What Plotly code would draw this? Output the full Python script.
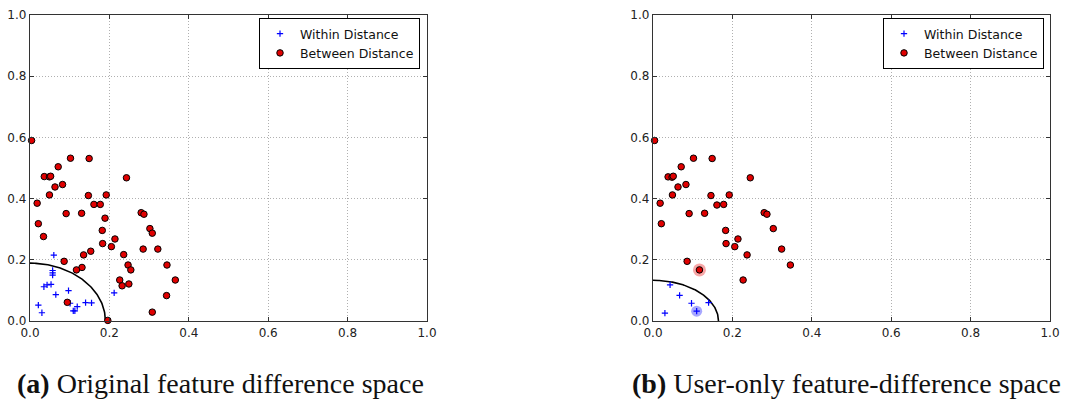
import numpy as np
import plotly.graph_objects as go

W, H = 1067, 401

# ---- data: panel (a) ----
a_within_x = [0.060, 0.057, 0.057, 0.057, 0.035, 0.043, 0.053, 0.065, 0.097, 0.021, 0.030,
              0.101, 0.109, 0.113, 0.119, 0.140, 0.155, 0.212]
a_within_y = [0.215, 0.165, 0.157, 0.150, 0.112, 0.118, 0.120, 0.086, 0.099, 0.052, 0.027,
              0.058, 0.033, 0.033, 0.047, 0.060, 0.059, 0.092]
a_between_x = [0.004, 0.102, 0.149, 0.071, 0.036, 0.049, 0.052, 0.243, 0.082, 0.063, 0.049, 0.147,
               0.192, 0.018, 0.161, 0.177, 0.091, 0.130, 0.021, 0.189, 0.280, 0.287, 0.034, 0.182,
               0.302, 0.308, 0.214, 0.183, 0.205, 0.153, 0.285, 0.322, 0.135, 0.236, 0.086, 0.345,
               0.247, 0.131, 0.117, 0.254, 0.226, 0.366, 0.232, 0.249, 0.344, 0.094, 0.308, 0.196]
a_between_y = [0.590, 0.532, 0.531, 0.504, 0.472, 0.471, 0.473, 0.468, 0.446, 0.438, 0.412, 0.410,
               0.412, 0.385, 0.381, 0.381, 0.351, 0.352, 0.318, 0.336, 0.354, 0.349, 0.276, 0.296,
               0.302, 0.287, 0.268, 0.253, 0.243, 0.228, 0.235, 0.235, 0.216, 0.217, 0.195, 0.183,
               0.183, 0.175, 0.167, 0.167, 0.134, 0.134, 0.115, 0.121, 0.083, 0.061, 0.029, 0.002]
a_radius_x, a_radius_y = 0.190, 0.189

# ---- data: panel (b) ----
b_within_x = [0.043, 0.067, 0.097, 0.140, 0.030, 0.110]
b_within_y = [0.118, 0.084, 0.058, 0.060, 0.026, 0.032]
b_between_x = [0.004, 0.102, 0.149, 0.071, 0.038, 0.048, 0.051, 0.245, 0.083, 0.063, 0.049, 0.146,
               0.192, 0.018, 0.161, 0.178, 0.091, 0.130, 0.021, 0.280, 0.287, 0.183, 0.303, 0.214,
               0.184, 0.206, 0.324, 0.237, 0.086, 0.346, 0.117, 0.227]
b_between_y = [0.590, 0.532, 0.531, 0.504, 0.471, 0.470, 0.473, 0.468, 0.446, 0.438, 0.412, 0.410,
               0.412, 0.385, 0.379, 0.381, 0.351, 0.352, 0.318, 0.354, 0.349, 0.296, 0.302, 0.268,
               0.253, 0.243, 0.235, 0.216, 0.195, 0.183, 0.167, 0.134]
b_hl_between = (0.117, 0.167)
b_hl_within = (0.110, 0.032)
b_radius_x, b_radius_y = 0.165, 0.133

ticks = [0.0, 0.2, 0.4, 0.6, 0.8, 1.0]
tick_text = ["0.0", "0.2", "0.4", "0.6", "0.8", "1.0"]
captions = ["<b>(a)</b> Original feature difference space",
            "<b>(b)</b> User-only feature-difference space"]

fig = go.Figure()

def arc(rx, ry):
    t = np.linspace(0, np.pi / 2, 100)
    return rx * np.cos(t), ry * np.sin(t)

def add_panel(i, wx, wy, bx, by, rx, ry, hl_b=None, hl_w=None):
    xa = "x" if i == 1 else "x2"
    ya = "y" if i == 1 else "y2"
    lg = "legend" if i == 1 else "legend2"
    ax, ay = arc(rx, ry)
    fig.add_trace(go.Scatter(x=ax, y=ay, mode="lines", line=dict(color="black", width=1.6),
                             xaxis=xa, yaxis=ya, showlegend=False, hoverinfo="skip"))
    if hl_b is not None:
        fig.add_trace(go.Scatter(x=[hl_b[0]], y=[hl_b[1]], mode="markers",
                                 marker=dict(size=13, color="rgba(240,60,60,0.45)", line=dict(width=0)),
                                 xaxis=xa, yaxis=ya, showlegend=False, cliponaxis=False))
    if hl_w is not None:
        fig.add_trace(go.Scatter(x=[hl_w[0]], y=[hl_w[1]], mode="markers",
                                 marker=dict(size=11, color="rgba(60,60,255,0.45)", line=dict(width=0)),
                                 xaxis=xa, yaxis=ya, showlegend=False, cliponaxis=False))
    fig.add_trace(go.Scatter(x=wx, y=wy, mode="markers", name="Within Distance",
                             marker=dict(symbol="cross-thin", size=4.5, color="blue",
                                         line=dict(color="blue", width=1.2)),
                             xaxis=xa, yaxis=ya, legend=lg, cliponaxis=False))
    fig.add_trace(go.Scatter(x=bx, y=by, mode="markers", name="Between Distance",
                             marker=dict(symbol="circle", size=6.5, color="#e00000",
                                         line=dict(color="black", width=1)),
                             xaxis=xa, yaxis=ya, legend=lg, cliponaxis=False))

add_panel(1, a_within_x, a_within_y, a_between_x, a_between_y, a_radius_x, a_radius_y)
add_panel(2, b_within_x, b_within_y, b_between_x, b_between_y, b_radius_x, b_radius_y,
          b_hl_between, b_hl_within)

axis_common = dict(range=[0, 1], tickvals=ticks, ticktext=tick_text, ticks="inside", ticklen=4,
                   tickcolor="#333", showline=True, linecolor="#333", linewidth=1.3, mirror="ticks",
                   showgrid=True, gridcolor="#b0b0b0", griddash="1px,2px", gridwidth=1, zeroline=False,
                   tickfont=dict(family="DejaVu Sans", size=12, color="#222"), fixedrange=True,
                   automargin=False)

y_dom = [1 - 321 / H, 1 - 15 / H]
legend_common = dict(y=1 - 18 / H, xanchor="right", yanchor="top",
                     bordercolor="black", borderwidth=1, bgcolor="white",
                     font=dict(family="DejaVu Sans", size=12.5, color="#111"), tracegroupgap=0)
fig.update_layout(
    width=W, height=H, margin=dict(l=0, r=0, t=0, b=0, autoexpand=False),
    paper_bgcolor="white", plot_bgcolor="white",
    xaxis=dict(domain=[30 / W, 427 / W], anchor="y", **axis_common),
    yaxis=dict(domain=y_dom, anchor="x", **axis_common),
    xaxis2=dict(domain=[653 / W, 1050 / W], anchor="y2", **axis_common),
    yaxis2=dict(domain=y_dom, anchor="x2", **axis_common),
    legend=dict(x=420 / W, **legend_common),
    legend2=dict(x=1044 / W, **legend_common),
    showlegend=True,
)

for cx, txt in zip([220 / W, 846 / W], captions):
    fig.add_annotation(x=cx, y=1 - 383 / H, xref="paper", yref="paper", text=txt,
                       showarrow=False, xanchor="center", yanchor="middle",
                       font=dict(family="Liberation Serif", size=28, color="#111"))

fig.write_html("out.html")
